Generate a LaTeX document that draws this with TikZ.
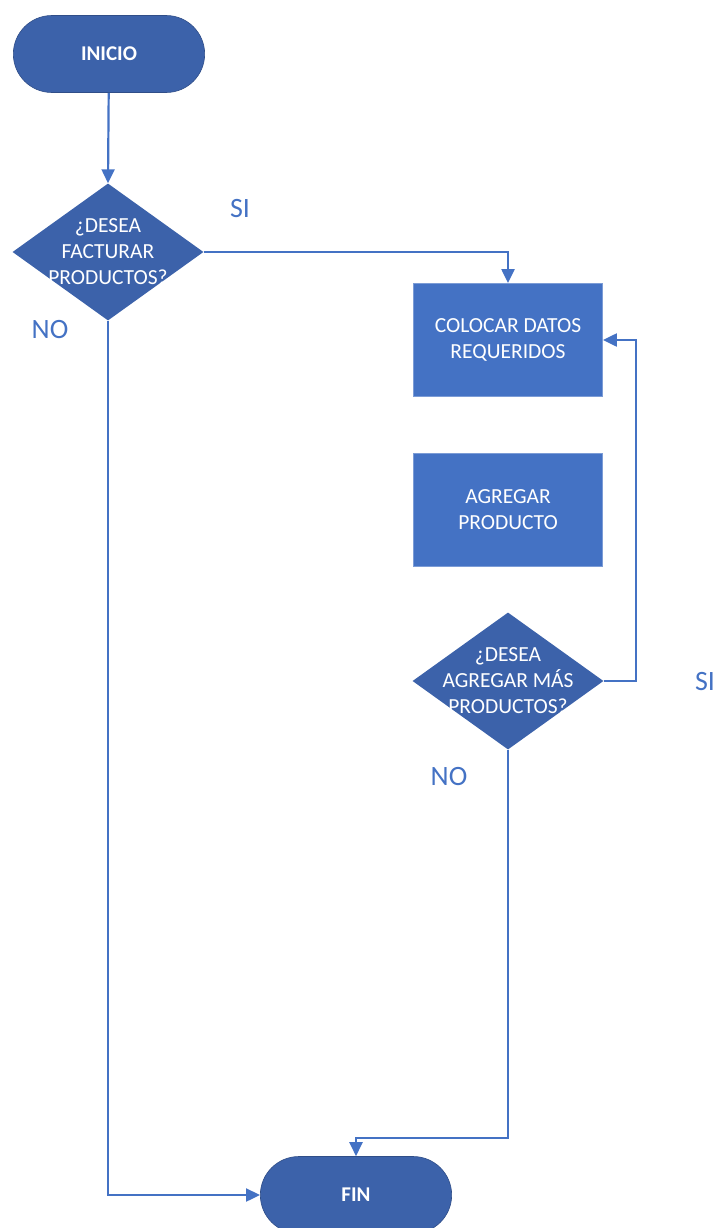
\documentclass[tikz,border=0pt]{standalone}
\usepackage{fontspec}
\setmainfont{Carlito}
\usetikzlibrary{shapes.geometric,shapes.misc,arrows.meta}
\definecolor{termblue}{HTML}{3C62AA}
\definecolor{boxblue}{HTML}{4472C4}
\definecolor{lineblue}{HTML}{4472C4}
\tikzset{
  terminal/.style={rounded rectangle, fill=termblue, draw=termblue!80!black, line width=0.6pt,
    minimum width=198pt, minimum height=77pt, text=white, font=\fontsize{21}{26}\selectfont\bfseries},
  decision/.style={diamond, fill=termblue, draw=none, inner sep=0pt,
    minimum width=191pt, minimum height=137pt},
  dtext/.style={text=white, align=center, font=\fontsize{21.5}{26}\selectfont},
  process/.style={rectangle, fill=boxblue, draw=boxblue!70!white, line width=0.8pt,
    minimum width=189pt, minimum height=113pt, text=white, align=center,
    font=\fontsize{21.5}{26}\selectfont},
  answer/.style={text=lineblue, font=\fontsize{28}{30}\selectfont},
  flow/.style={draw=lineblue, line width=2.2pt, -{Triangle[width=13pt,length=14pt]}},
}
\begin{document}
\begin{tikzpicture}[x=1pt,y=-1pt]
\useasboundingbox (0,0) rectangle (718,1228);

% start and end terminals
\node[terminal] (start) at (109,54) {INICIO};
\node[terminal] (fin) at (356,1195) {FIN};

% first decision
\node[decision] (d1) at (108,252) {};
\node[dtext] (d1t) at (d1.center) {¿DESEA\\FACTURAR\\PRODUCTOS?};

% process boxes
\node[process] (b1) at (508,340) {COLOCAR DATOS\\REQUERIDOS};
\node[process] (b2) at (508,510) {AGREGAR\\PRODUCTO};

% second decision
\node[decision] (d2) at (508,681) {};
\node[dtext] (d2t) at (d2.center) {¿DESEA\\AGREGAR MÁS\\PRODUCTOS?};

% branch labels
\node[answer] (si1) at (240,209) {SI};
\node[answer] (no1) at (50,330) {NO};
\node[answer] (si2) at (705,682) {SI};
\node[answer] (no2) at (449,777) {NO};

% connectors
\draw[flow] (start) -- (d1.north);
\draw[flow] (d1.east) -| (b1.north);
\draw[flow] (d2.east) -| ([xshift=33pt]b1.east) -- (b1.east);
\draw[flow] (d2.south) |- ([yshift=18pt]fin.north) -- (fin.north);
\draw[flow] (d1.south) |- (fin.west);
\end{tikzpicture}
\end{document}
